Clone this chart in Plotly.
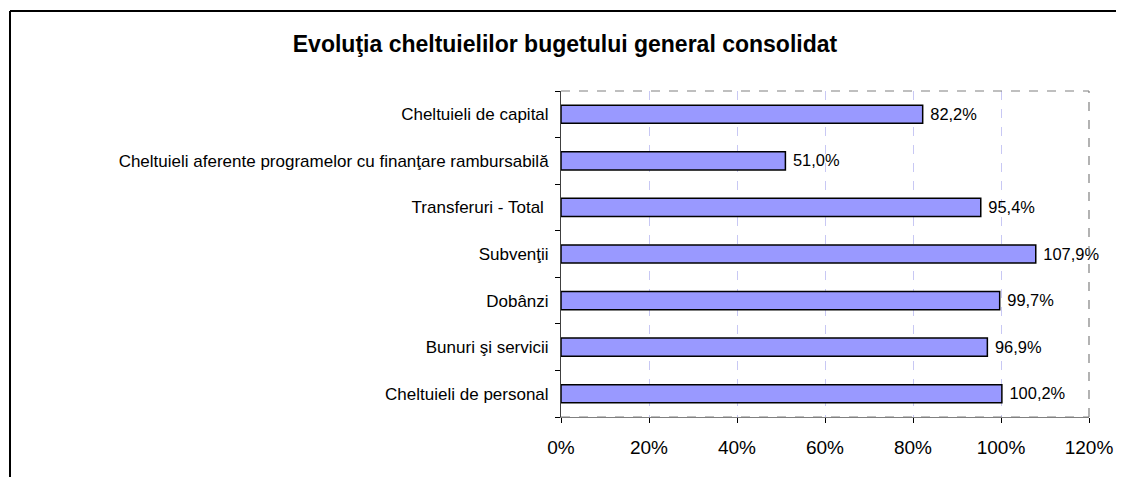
import plotly.graph_objects as go

categories = [
    "Cheltuieli de personal",
    "Bunuri şi servicii",
    "Dobânzi",
    "Subvenţii",
    "Transferuri - Total ",
    "Cheltuieli aferente programelor cu finanţare rambursabilă",
    "Cheltuieli de capital",
]
values = [100.2, 96.9, 99.7, 107.9, 95.4, 51.0, 82.2]
x_ticks = [0, 20, 40, 60, 80, 100, 120]
x_tick_labels = ["0%", "20%", "40%", "60%", "80%", "100%", "120%"]
title_text = "Evoluţia cheltuielilor bugetului general consolidat"

# page is rendered with an 8px body margin; work in page pixels and offset
OFF = 8
PW, PH = 1124, 477
W, H = PW - OFF, PH - OFF
plot_left, plot_right, plot_top, plot_bottom = 561, 1089, 91, 417
L = plot_left - OFF
R = W - (plot_right - OFF)
T = plot_top - OFF
B = H - (plot_bottom - OFF)
pw, ph = W - L - R, H - T - B

def px_x(p):
    return (p - plot_left) / pw

def px_y(p):
    return (plot_bottom - p) / ph

FAM = "Liberation Sans, Arial, sans-serif"

fig = go.Figure()
fig.add_trace(go.Bar(
    y=categories, x=values, orientation="h",
    marker=dict(color="#9999FF", line=dict(color="#000000", width=1.5)),
    width=0.39,
    texttemplate="\u00a0%{x:.1f}%", textposition="outside",
    textfont=dict(family=FAM, size=19, color="#000000"),
    cliponaxis=False,
    hoverinfo="skip",
))

fig.update_layout(
    width=W, height=H,
    margin=dict(l=L, r=R, t=T, b=B, autoexpand=False),
    paper_bgcolor="white", plot_bgcolor="white",
    separators=", ",
    showlegend=False,
    font=dict(family=FAM, size=16, color="#000000"),
    title=dict(
        text="<b>" + title_text + "</b>",
        x=(565 - OFF) / W, xref="container", xanchor="center",
        y=1 - (44 - OFF) / H, yref="container", yanchor="middle",
        font=dict(family=FAM, size=23, color="#000000"),
    ),
    xaxis=dict(
        range=[0, 120], tickmode="array", tickvals=x_ticks, ticktext=x_tick_labels,
        showgrid=True, gridcolor="#C8C8F4", griddash="dash", gridwidth=1,
        ticks="outside", ticklen=5, tickcolor="#000000",
        showline=True, linecolor="#808080", linewidth=1,
        zeroline=False, ticklabelstandoff=8,
        tickfont=dict(family=FAM, size=19, color="#000000"),
    ),
    yaxis=dict(
        categoryorder="array", categoryarray=categories,
        ticks="outside", ticklen=5, tickcolor="#000000", tickson="boundaries",
        showline=True, linecolor="#404040", linewidth=1,
        showgrid=False, zeroline=False, ticklabelstandoff=8,
        tickfont=dict(family=FAM, size=17, color="#000000"),
        range=[-0.5, 6.5],
    ),
    shapes=[
        dict(type="line", xref="paper", yref="paper", x0=0, x1=1, y0=1, y1=1,
             line=dict(color="#808080", width=1.2, dash="dash")),
        dict(type="line", xref="paper", yref="paper", x0=1, x1=1, y0=0, y1=1,
             line=dict(color="#808080", width=1.2, dash="dash")),
        dict(type="line", xref="paper", yref="paper", x0=0, x1=1, y0=0, y1=0,
             line=dict(color="#808080", width=1.2, dash="dash")),
        dict(type="line", xref="paper", yref="paper",
             x0=px_x(10), x1=px_x(10), y0=px_y(11), y1=px_y(500),
             line=dict(color="#000000", width=2)),
        dict(type="line", xref="paper", yref="paper",
             x0=px_x(10), x1=px_x(1140), y0=px_y(11), y1=px_y(11),
             line=dict(color="#000000", width=2)),
    ],
)

fig.write_html("out.html")
